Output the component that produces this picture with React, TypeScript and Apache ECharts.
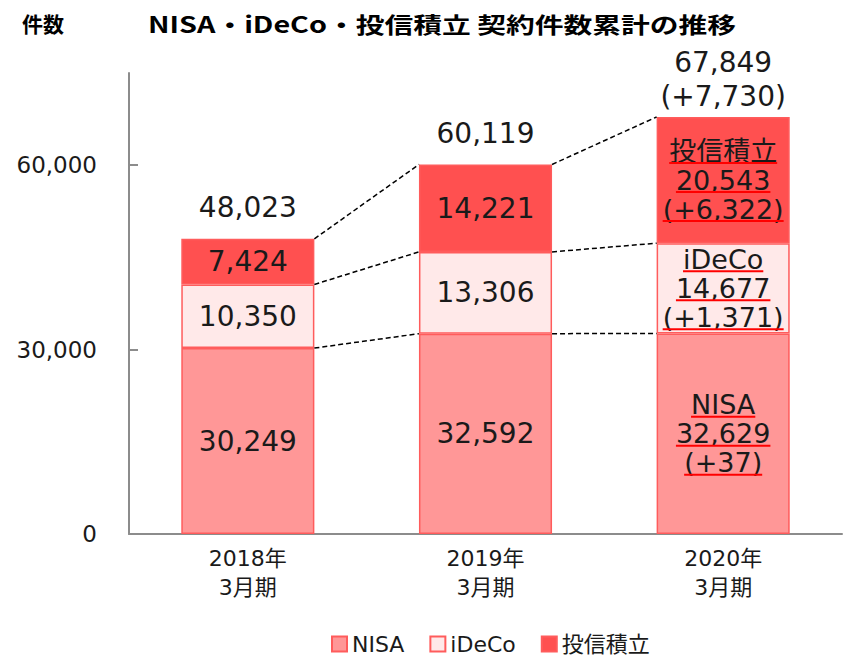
import React, { useEffect, useRef } from 'react';
import * as echarts from 'echarts';

const categories = ['2018年\n3月期', '2019年\n3月期', '2020年\n3月期'];
const seriesNames = ['NISA', 'iDeCo', '投信積立'];
const nisaValues = [30249, 32592, 32629];
const idecoValues = [10350, 13306, 14677];
const tsumitateValues = [7424, 14221, 20543];
const totalValues = [48023, 60119, 67849];
const nisaChange: (number | null)[] = [null, null, 37];
const idecoChange: (number | null)[] = [null, null, 1371];
const tsumitateChange: (number | null)[] = [null, null, 6322];
const totalChange: (number | null)[] = [null, null, 7730];
const yLabelValues = [0, 30000, 60000];
const yTickValues = [30000, 60000];
const titleText = 'NISA・iDeCo・投信積立 契約件数累計の推移';
const unitText = '件数';

const FONT = '"DejaVu Sans", "Noto Sans CJK JP", sans-serif';
const CJK = '"Noto Sans CJK JP", "DejaVu Sans", sans-serif';
const TEXT = '#1a1a1a';
const COLORS = ['#FF9797', '#FFE9E9', '#FF5050'];
const BORDER = '#FF5C5C';
const BAR_RATIO = 0.56;

const fmt = (v: number) => v.toLocaleString('en-US');
const fmtChange = (v: number) => `(+${fmt(v)})`;

let ctx: CanvasRenderingContext2D | null = null;
function measure(text: string, font: string): number {
  if (!ctx) ctx = document.createElement('canvas').getContext('2d');
  if (!ctx) return text.length * 16;
  ctx.font = font;
  return ctx.measureText(text).width;
}

export default function App() {
  const ref = useRef<HTMLDivElement>(null);
  useEffect(() => {
    if (!ref.current) return;
    const chart = echarts.init(ref.current, null, { renderer: 'svg' });
    const valueArrays = [nisaValues, idecoValues, tsumitateValues];
    const changeArrays = [nisaChange, idecoChange, tsumitateChange];

    const titleFontSize = 22;
    const titleW = measure(titleText, `bold ${titleFontSize}px ${CJK}`);
    const titleScale = 588 / titleW;

    const barSeries = seriesNames.map((name, s) => ({
      name,
      type: 'bar',
      stack: 'total',
      barWidth: `${BAR_RATIO * 100}%`,
      data: valueArrays[s],
      itemStyle: { color: COLORS[s], borderColor: BORDER, borderWidth: 1.5 },
      label: {
        show: true,
        position: 'inside',
        fontFamily: FONT,
        fontSize: 28,
        color: TEXT,
        formatter: (p: any) => (changeArrays[s][p.dataIndex] == null ? fmt(p.value) : ''),
      },
      emphasis: { disabled: true },
    }));

    const option: any = {
      animation: false,
      grid: { left: 129, right: 24, top: 73, bottom: 126 },
      graphic: [
        {
          type: 'text',
          x: 22,
          y: 23,
          style: { text: unitText, fontFamily: CJK, fontWeight: 'bold', fontSize: 21, fill: '#000', verticalAlign: 'middle' },
        },
        {
          type: 'text',
          x: 148,
          y: 23,
          scaleX: titleScale,
          style: { text: titleText, fontFamily: CJK, fontWeight: 'bold', fontSize: titleFontSize, fill: '#000', verticalAlign: 'middle' },
        },
      ],
      legend: {
        data: seriesNames,
        left: 326,
        top: 628,
        icon: 'rect',
        itemWidth: 15,
        itemHeight: 15,
        itemGap: 25,
        textStyle: { fontFamily: FONT, fontSize: 22, color: TEXT },
      },
      xAxis: {
        type: 'category',
        data: categories,
        axisLine: { lineStyle: { color: '#8c8c8c', width: 2 } },
        axisTick: { show: false },
        axisLabel: { fontFamily: FONT, fontSize: 22, lineHeight: 29, color: TEXT, margin: 10 },
      },
      yAxis: {
        type: 'value',
        min: 0,
        max: 75000,
        interval: 15000,
        splitLine: { show: false },
        axisLine: { show: true, lineStyle: { color: '#8c8c8c', width: 2 } },
        axisTick: { show: true, inside: true, length: 9, customValues: yTickValues, lineStyle: { color: '#8c8c8c', width: 2 } },
        axisLabel: {
          customValues: yLabelValues,
          fontFamily: FONT,
          fontSize: 23,
          color: TEXT,
          margin: 32,
          formatter: (v: number) => (yLabelValues.includes(v) ? fmt(v) : ''),
        },
      },
      series: [
        ...barSeries,
        {
          type: 'custom',
          name: 'connectors',
          z: 5,
          clip: false,
          silent: true,
          data: [[0, 0], [1, 0]],
          renderItem: (params: any, api: any) => {
            const i = params.dataIndex;
            const halfBar = (api.size([1, 0])[0] * BAR_RATIO) / 2;
            const levels = (k: number) => [
              nisaValues[k],
              nisaValues[k] + idecoValues[k],
              nisaValues[k] + idecoValues[k] + tsumitateValues[k],
            ];
            const a = levels(i);
            const b = levels(i + 1);
            const children = a.map((va, j) => {
              const p1 = api.coord([i, va]);
              const p2 = api.coord([i + 1, b[j]]);
              return {
                type: 'line',
                shape: { x1: p1[0] + halfBar, y1: p1[1], x2: p2[0] - halfBar, y2: p2[1] },
                style: { stroke: '#000', lineWidth: 1.5, lineDash: [5, 3] },
              };
            });
            return { type: 'group', children };
          },
        },
        {
          type: 'custom',
          name: 'annotations',
          z: 10,
          clip: false,
          silent: true,
          data: totalValues.map((v, i) => [i, v]),
          renderItem: (params: any, api: any) => {
            const i = params.dataIndex;
            const children: any[] = [];
            const txt = (text: string, x: number, y: number, fontSize: number, lineHeight: number) => ({
              type: 'text',
              x,
              y,
              style: { text, fontFamily: FONT, fontSize, lineHeight, fill: TEXT, align: 'center', verticalAlign: 'middle' },
            });
            const [cx, topY] = api.coord([i, totalValues[i]]);
            const tc = totalChange[i];
            if (tc != null) {
              children.push(txt(fmt(totalValues[i]) + '\n' + fmtChange(tc), cx, topY - 37, 28, 34));
            } else {
              children.push(txt(fmt(totalValues[i]), cx, topY - 31, 28, 34));
            }
            let base = 0;
            const FS = 27;
            const LH = 29;
            for (let s = 0; s < seriesNames.length; s++) {
              const v = valueArrays[s][i];
              const ch = changeArrays[s][i];
              if (ch != null) {
                const cy = api.coord([i, base + v / 2])[1];
                const lines = [seriesNames[s], fmt(v), fmtChange(ch)];
                children.push(txt(lines.join('\n'), cx, cy, FS, LH));
                lines.forEach((line, k) => {
                  const y = cy + (k - 1) * LH;
                  const w = measure(line, `${FS}px ${FONT}`);
                  children.push({
                    type: 'line',
                    shape: { x1: cx - w / 2, y1: y + 12, x2: cx + w / 2, y2: y + 12 },
                    style: { stroke: '#FF0000', lineWidth: 2 },
                  });
                });
              }
              base += v;
            }
            return { type: 'group', children };
          },
        },
      ],
    };
    chart.setOption(option);
    return () => chart.dispose();
  }, []);
  return <div ref={ref} style={{ position: 'fixed', left: 0, top: 0, width: 866, height: 660, background: '#fff' }} />;
}
